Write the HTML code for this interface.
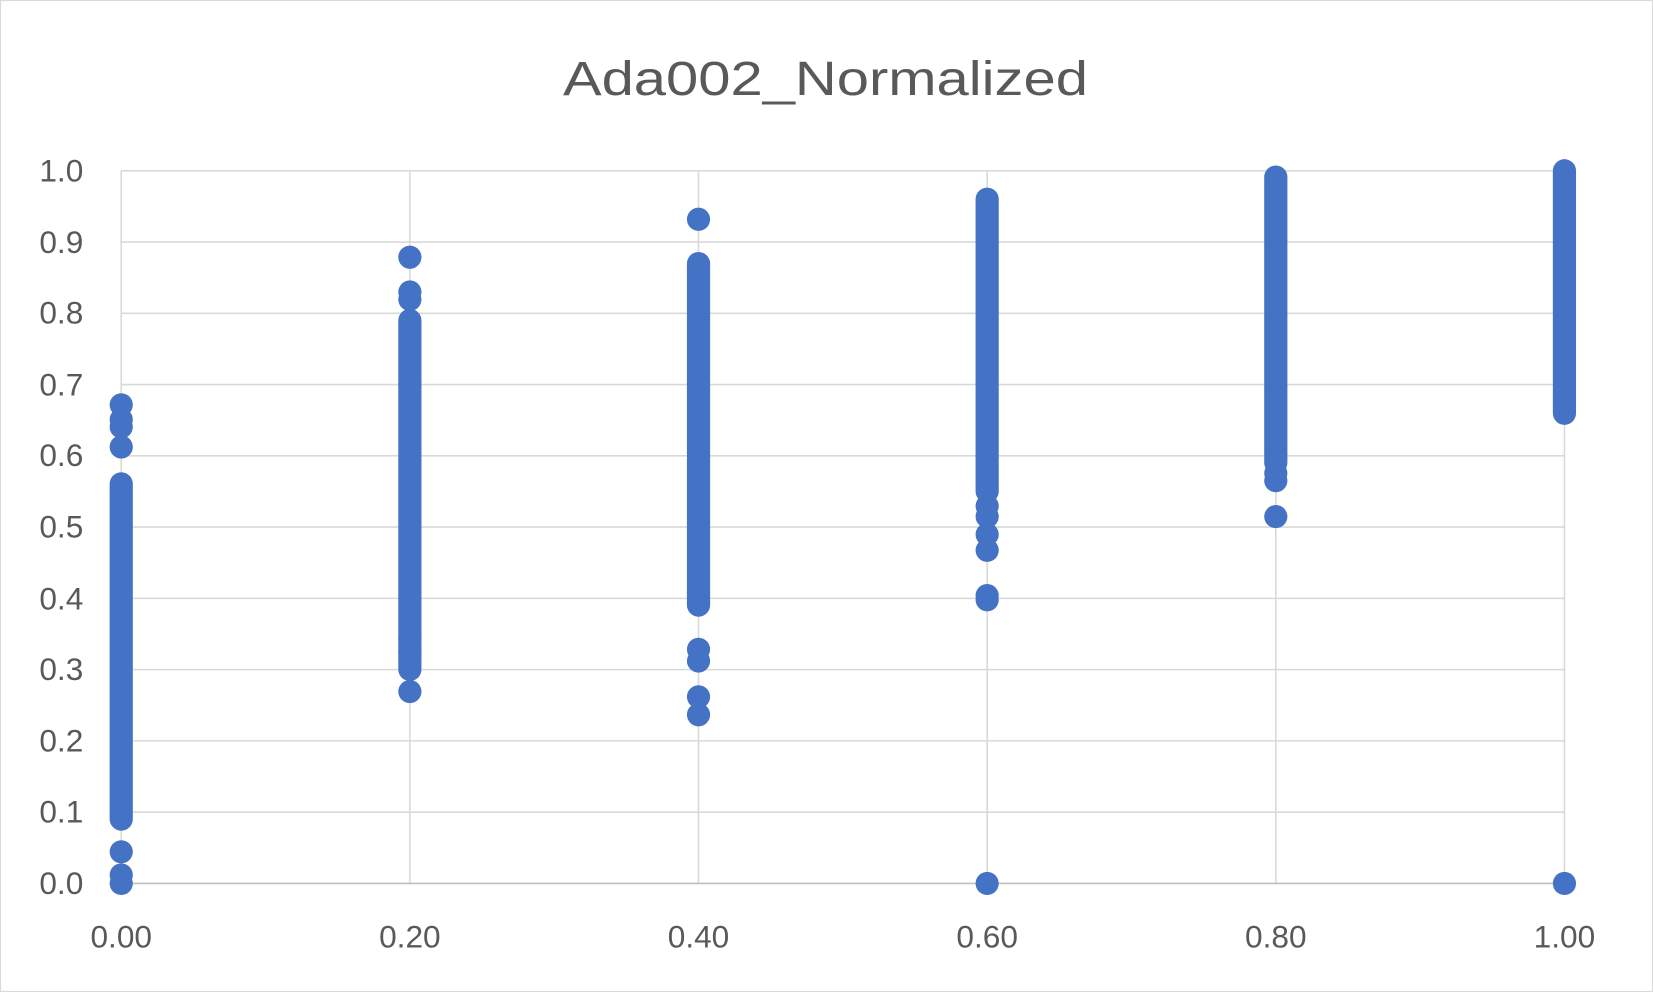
<!DOCTYPE html>
<html><head><meta charset="utf-8"><style>
html,body{margin:0;padding:0;background:#fff;}
svg{display:block;}
</style></head><body>
<svg width="1653" height="992" viewBox="0 0 1568 941" preserveAspectRatio="none" xmlns="http://www.w3.org/2000/svg" font-family="Liberation Sans, sans-serif">
<rect x="0.5" y="0.5" width="1567" height="940" fill="#fff" stroke="#d9d9d9" stroke-width="1"/>
<text x="783" y="90" text-anchor="middle" font-size="46" fill="#595959" textLength="498" lengthAdjust="spacingAndGlyphs">Ada002_Normalized</text>
<g stroke="#d9d9d9" stroke-width="1.5">
<line x1="115" y1="162" x2="1484" y2="162"/>
<line x1="115" y1="229.6" x2="1484" y2="229.6"/>
<line x1="115" y1="297.2" x2="1484" y2="297.2"/>
<line x1="115" y1="364.8" x2="1484" y2="364.8"/>
<line x1="115" y1="432.4" x2="1484" y2="432.4"/>
<line x1="115" y1="500" x2="1484" y2="500"/>
<line x1="115" y1="567.6" x2="1484" y2="567.6"/>
<line x1="115" y1="635.2" x2="1484" y2="635.2"/>
<line x1="115" y1="702.8" x2="1484" y2="702.8"/>
<line x1="115" y1="770.4" x2="1484" y2="770.4"/>
<line x1="115" y1="162" x2="115" y2="838"/>
<line x1="388.8" y1="162" x2="388.8" y2="838"/>
<line x1="662.6" y1="162" x2="662.6" y2="838"/>
<line x1="936.4" y1="162" x2="936.4" y2="838"/>
<line x1="1210.2" y1="162" x2="1210.2" y2="838"/>
<line x1="1484" y1="162" x2="1484" y2="838"/>
</g>
<line x1="115" y1="838" x2="1484" y2="838" stroke="#bfbfbf" stroke-width="1.5"/>
<g font-size="30" fill="#595959" text-anchor="end">
<text x="79" y="172">1.0</text><text x="79" y="240">0.9</text><text x="79" y="307">0.8</text>
<text x="79" y="375">0.7</text><text x="79" y="442">0.6</text><text x="79" y="510">0.5</text>
<text x="79" y="578">0.4</text><text x="79" y="645">0.3</text><text x="79" y="713">0.2</text>
<text x="79" y="780">0.1</text><text x="79" y="848">0.0</text>
</g>
<g font-size="30" fill="#595959" text-anchor="middle">
<text x="115" y="899">0.00</text><text x="388.8" y="899">0.20</text><text x="662.6" y="899">0.40</text>
<text x="936.4" y="899">0.60</text><text x="1210.2" y="899">0.80</text><text x="1484" y="899">1.00</text>
</g>
<g stroke="#4472C4" stroke-width="22" stroke-linecap="round">
<line x1="115" y1="777" x2="115" y2="459"/>
<line x1="388.8" y1="635" x2="388.8" y2="304"/>
<line x1="662.6" y1="574" x2="662.6" y2="250"/>
<line x1="936.4" y1="466" x2="936.4" y2="189"/>
<line x1="1210.2" y1="439" x2="1210.2" y2="168"/>
<line x1="1484" y1="392" x2="1484" y2="162"/>
</g>
<g fill="#4472C4">
<circle cx="115" cy="838" r="11"/><circle cx="115" cy="830" r="11"/><circle cx="115" cy="808" r="11"/>
<circle cx="115" cy="424" r="11"/><circle cx="115" cy="405" r="11"/><circle cx="115" cy="398" r="11"/><circle cx="115" cy="384" r="11"/>
<circle cx="388.8" cy="656" r="11"/><circle cx="388.8" cy="619" r="11"/><circle cx="388.8" cy="605" r="11"/>
<circle cx="388.8" cy="284" r="11"/><circle cx="388.8" cy="277" r="11"/><circle cx="388.8" cy="244" r="11"/>
<circle cx="662.6" cy="678" r="11"/><circle cx="662.6" cy="661" r="11"/><circle cx="662.6" cy="627" r="11"/><circle cx="662.6" cy="616" r="11"/>
<circle cx="662.6" cy="208" r="11"/>
<circle cx="936.4" cy="838" r="11"/><circle cx="936.4" cy="569" r="11"/><circle cx="936.4" cy="565" r="11"/>
<circle cx="936.4" cy="522" r="11"/><circle cx="936.4" cy="507" r="11"/><circle cx="936.4" cy="490" r="11"/><circle cx="936.4" cy="480" r="11"/>
<circle cx="1210.2" cy="490" r="11"/><circle cx="1210.2" cy="456" r="11"/><circle cx="1210.2" cy="449" r="11"/>
<circle cx="1484" cy="838" r="11"/>
</g>
</svg>
</body></html>
